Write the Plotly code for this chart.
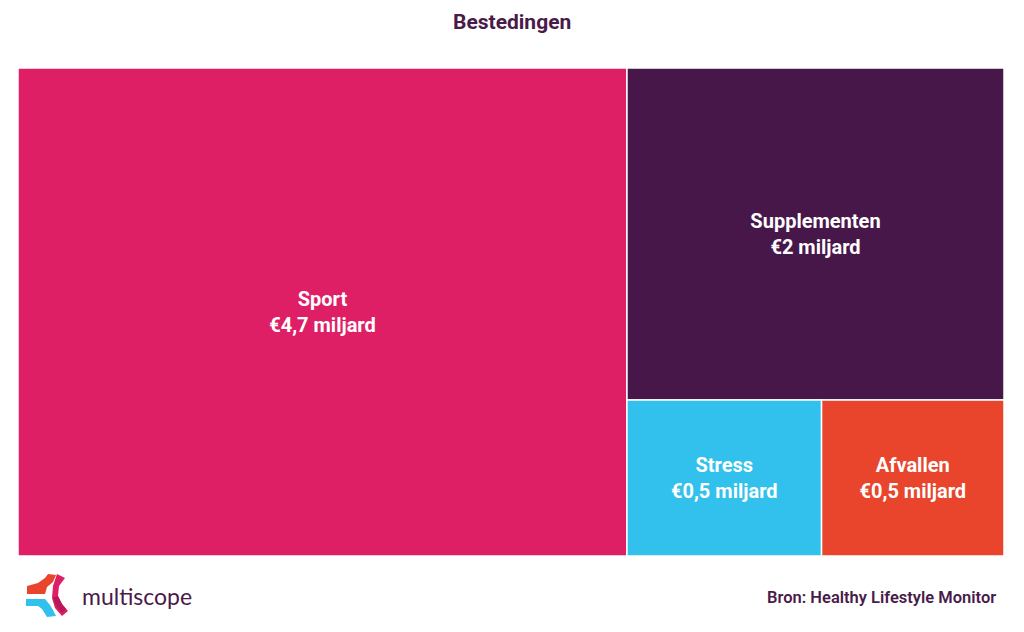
import plotly.graph_objects as go

labels = ["Sport", "Supplementen", "Stress", "Afvallen"]
values = [4.7, 1.98, 0.48, 0.45]
value_text = ["4,7", "2", "0,5", "0,5"]
colors = ["#DE1F66", "#48174A", "#32C1ED", "#E8452C"]

W, H = 1024, 632
TXT = "#4A1A4A"

fig = go.Figure(go.Treemap(
    labels=labels,
    parents=[""] * len(labels),
    values=values,
    customdata=value_text,
    texttemplate="%{label}<br>€%{customdata} miljard",
    textposition="middle center",
    textfont=dict(family="Roboto", size=20, color="white", weight=700),
    marker=dict(colors=colors, line=dict(color="white", width=1.5), pad=dict(t=0, l=0, r=0, b=0)),
    tiling=dict(packing="squarify", pad=0),
    pathbar=dict(visible=False),
    sort=True,
    hoverinfo="label+text",
    domain=dict(x=[18 / W, 1004 / W], y=[1 - 556 / H, 1 - 68 / H]),
))


def px(x, y):
    return f"{x / W:.5f},{1 - y / H:.5f}"


def path(points, close=True):
    s = "M " + " L ".join(px(*p) for p in points)
    return s + (" Z" if close else "")


def logo_shape(points, color):
    return dict(type="path", xref="paper", yref="paper", line=dict(width=0),
                fillcolor=color, path=path(points))


shapes = [
    logo_shape([(27, 586), (38, 583), (45, 578), (48, 574), (56, 575), (53, 582), (47, 587), (45, 594), (27, 594)], "#E8452C"),
    logo_shape([(26, 599), (45, 599), (50, 605), (53, 610), (56, 616), (47, 617), (42, 609), (38, 606), (26, 606)], "#32C1ED"),
    logo_shape([(57, 574), (65, 578), (59, 586), (58, 596), (62, 604), (68, 611), (62, 616), (55, 608), (52, 598), (53, 586)], "#DE1F66"),
    logo_shape([(53, 598), (58, 596), (62, 604), (66, 609), (62, 613), (56, 606)], "#B8185A"),
]

fig.update_layout(
    width=W, height=H,
    margin=dict(l=0, r=0, t=0, b=0),
    paper_bgcolor="white",
    plot_bgcolor="white",
    shapes=shapes,
    annotations=[
        dict(text="<b>Bestedingen</b>", x=0.5, y=1 - 22 / H, xref="paper", yref="paper",
             xanchor="center", yanchor="middle", showarrow=False,
             font=dict(family="Roboto", size=21, color=TXT)),
        dict(text="Bron: Healthy Lifestyle Monitor", x=998 / W, y=1 - 597 / H, xref="paper", yref="paper",
             xanchor="right", yanchor="middle", showarrow=False,
             font=dict(family="Roboto", size=16.5, color=TXT, weight=600)),
        dict(text="multiscope", x=80 / W, y=1 - 596 / H, xref="paper", yref="paper",
             xanchor="left", yanchor="middle", showarrow=False,
             font=dict(family="Lato", size=23, color=TXT)),
    ],
)

fig.write_html("out.html")
